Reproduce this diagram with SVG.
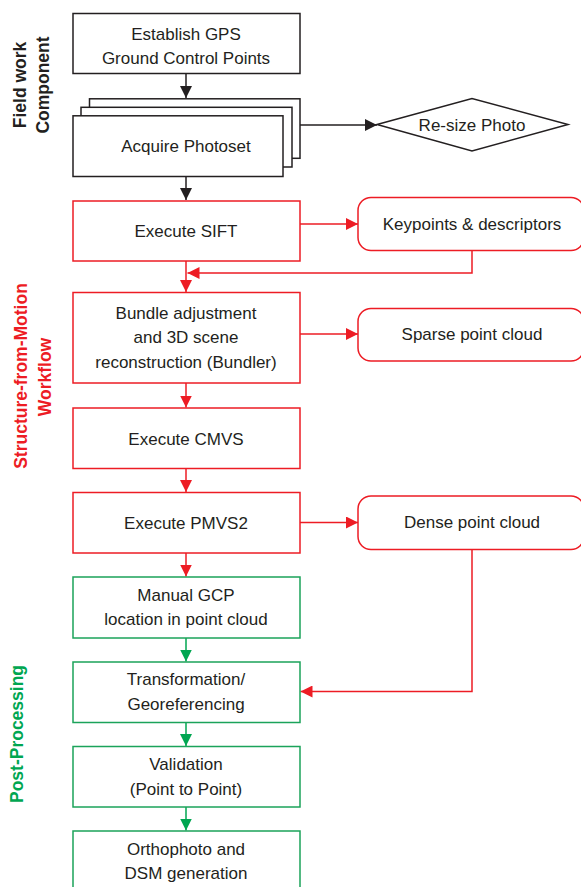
<svg xmlns="http://www.w3.org/2000/svg" width="581" height="887" viewBox="0 0 581 887">
<defs>
<style>
.t{font-family:"Liberation Sans",Arial,sans-serif;font-size:17px;fill:#231F20;text-anchor:middle}
.s{font-family:"Liberation Sans",Arial,sans-serif;font-size:17.5px;font-weight:bold;text-anchor:middle}
.bk{fill:#fff;stroke:#231F20;stroke-width:1.5}
.rd{fill:#fff;stroke:#ED1C24;stroke-width:1.5}
.gr{fill:#fff;stroke:#1BA35A;stroke-width:1.5}
.cb{fill:none;stroke:#231F20;stroke-width:1.5}
.cr{fill:none;stroke:#ED1C24;stroke-width:1.5}
.cg{fill:none;stroke:#00A651;stroke-width:1.5}
</style>
<marker id="ab" markerUnits="userSpaceOnUse" markerWidth="13" markerHeight="12" refX="12" refY="6" orient="auto"><path d="M0,0 L12,6 L0,12 z" fill="#231F20"/></marker>
<marker id="ar" markerUnits="userSpaceOnUse" markerWidth="13" markerHeight="12" refX="12" refY="6" orient="auto"><path d="M0,0 L12,6 L0,12 z" fill="#ED1C24"/></marker>
<marker id="ag" markerUnits="userSpaceOnUse" markerWidth="13" markerHeight="12" refX="12" refY="6" orient="auto"><path d="M0,0 L12,6 L0,12 z" fill="#00A651"/></marker>
</defs>
<rect width="581" height="887" fill="#fff"/>

<g id="labels">
<text class="s" fill="#231F20" transform="translate(26,85) rotate(-90)">Field work</text>
<text class="s" fill="#231F20" transform="translate(49,85) rotate(-90)">Component</text>
<text class="s" fill="#ED1C24" transform="translate(27,376) rotate(-90)">Structure-from-Motion</text>
<text class="s" fill="#ED1C24" transform="translate(51,377) rotate(-90)">Workflow</text>
<text class="s" fill="#00A651" transform="translate(23,734) rotate(-90)">Post-Processing</text>
</g>

<g id="connectors">
<line class="cb" x1="186" y1="73" x2="186" y2="98" marker-end="url(#ab)"/>
<line class="cb" x1="300" y1="125" x2="377" y2="125" marker-end="url(#ab)"/>
<line class="cb" x1="186" y1="176.5" x2="186" y2="200" marker-end="url(#ab)"/>
<line class="cr" x1="300" y1="224" x2="358" y2="224" marker-end="url(#ar)"/>
<polyline class="cr" points="472,251 472,273 187.5,273" marker-end="url(#ar)"/>
<line class="cr" x1="186" y1="261" x2="186" y2="292" marker-end="url(#ar)"/>
<line class="cr" x1="300" y1="334" x2="358" y2="334" marker-end="url(#ar)"/>
<line class="cr" x1="186" y1="383" x2="186" y2="407.5" marker-end="url(#ar)"/>
<line class="cr" x1="186" y1="468.5" x2="186" y2="492" marker-end="url(#ar)"/>
<line class="cr" x1="300" y1="522.5" x2="358" y2="522.5" marker-end="url(#ar)"/>
<line class="cr" x1="186" y1="553" x2="186" y2="576.5" marker-end="url(#ar)"/>
<polyline class="cr" points="472,549.5 472,691.5 300.5,691.5" marker-end="url(#ar)"/>
<line class="cg" x1="186" y1="638" x2="186" y2="661.5" marker-end="url(#ag)"/>
<line class="cg" x1="186" y1="722.5" x2="186" y2="746" marker-end="url(#ag)"/>
<line class="cg" x1="186" y1="807" x2="186" y2="830.5" marker-end="url(#ag)"/>
</g>

<g id="gps">
<rect class="bk" x="73" y="13.5" width="227" height="60"/>
<text class="t" x="186" y="39.5">Establish GPS</text>
<text class="t" x="186" y="63.5">Ground Control Points</text>
</g>

<g id="photoset">
<rect class="bk" x="89.5" y="98.8" width="210.5" height="59.5"/>
<rect class="bk" x="81" y="107.3" width="211" height="59.7"/>
<rect class="bk" x="73" y="115.8" width="210" height="60.7"/>
<text class="t" x="186" y="151.7">Acquire Photoset</text>
</g>

<g id="resize">
<polygon class="bk" points="377,124.5 472,98.5 568,124.5 472,151"/>
<text class="t" x="472" y="131">Re-size Photo</text>
</g>

<g id="sift">
<rect class="rd" x="73" y="201" width="227" height="60"/>
<text class="t" x="186" y="237">Execute SIFT</text>
</g>

<g id="keypoints">
<rect class="rd" x="358" y="197.5" width="226" height="53" rx="13"/>
<text class="t" x="472" y="229.5">Keypoints &amp; descriptors</text>
</g>

<g id="bundle">
<rect class="rd" x="73" y="292.5" width="227" height="90.5"/>
<text class="t" x="186" y="318.5">Bundle adjustment</text>
<text class="t" x="186" y="343">and 3D scene</text>
<text class="t" x="186" y="367.5">reconstruction (Bundler)</text>
</g>

<g id="sparse">
<rect class="rd" x="358" y="308.5" width="226" height="52.5" rx="13"/>
<text class="t" x="472" y="340">Sparse point cloud</text>
</g>

<g id="cmvs">
<rect class="rd" x="73" y="408" width="227" height="60.5"/>
<text class="t" x="186" y="445">Execute CMVS</text>
</g>

<g id="pmvs">
<rect class="rd" x="73" y="492.5" width="227" height="60.5"/>
<text class="t" x="186" y="529">Execute PMVS2</text>
</g>

<g id="dense">
<rect class="rd" x="358" y="496" width="226" height="53.5" rx="13"/>
<text class="t" x="472" y="528.3">Dense point cloud</text>
</g>

<g id="gcp">
<rect class="gr" x="73" y="577" width="227" height="61"/>
<text class="t" x="186" y="600.5">Manual GCP</text>
<text class="t" x="186" y="624.5">location in point cloud</text>
</g>

<g id="transform">
<rect class="gr" x="73" y="662" width="227" height="60.5"/>
<text class="t" x="186" y="685">Transformation/</text>
<text class="t" x="186" y="710">Georeferencing</text>
</g>

<g id="validation">
<rect class="gr" x="73" y="746.5" width="227" height="60.5"/>
<text class="t" x="186" y="769.5">Validation</text>
<text class="t" x="186" y="795">(Point to Point)</text>
</g>

<g id="ortho">
<rect class="gr" x="73" y="831" width="227" height="62"/>
<text class="t" x="186" y="855">Orthophoto and</text>
<text class="t" x="186" y="878.5">DSM generation</text>
</g>
</svg>
